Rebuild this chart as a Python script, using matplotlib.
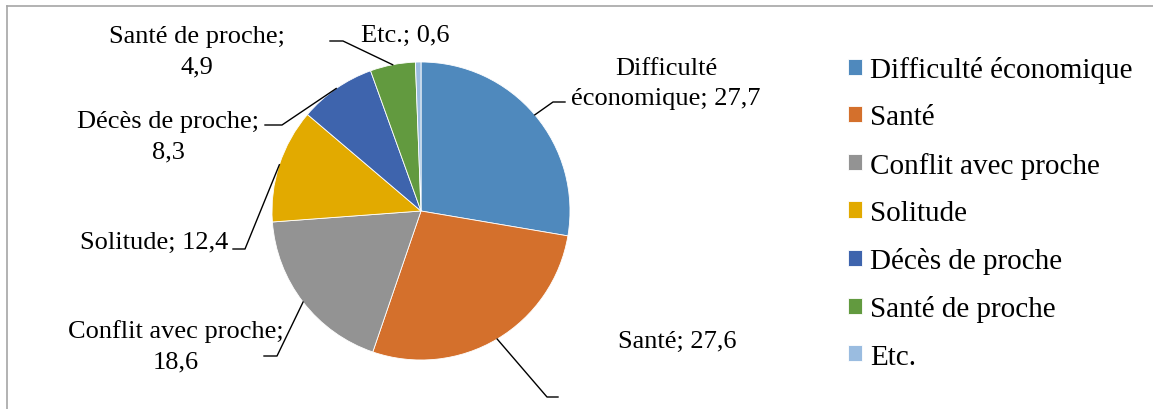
import matplotlib.pyplot as plt
import numpy as np

# données
categories = ["Difficulté économique", "Santé", "Conflit avec proche", "Solitude",
              "Décès de proche", "Santé de proche", "Etc."]
valeurs = [27.7, 27.6, 18.6, 12.4, 8.3, 4.9, 0.6]
etiquettes = ["Difficulté\néconomique; 27,7", "Santé; 27,6", "Conflit avec proche;\n18,6",
              "Solitude; 12,4", "Décès de proche;\n8,3", "Santé de proche;\n4,9", "Etc.; 0,6"]
couleurs = ["#4F89BD", "#D4702C", "#939393", "#E2AA00", "#3E64AD", "#629A3F", "#9ABCE0"]

W, H = 1153, 410

# position des étiquettes (pixels, origine en haut à gauche)
pos_texte = [(666, 84), (677, 342), (176, 347), (154, 243), (168, 137), (197, 52), (405, 36)]
# lignes de rappel : coude puis extrémité (None = pas de ligne)
rappel = [((553, 103), (565, 103)), ((547, 398), (558, 398)), ((277, 357), (264, 357)),
          ((245, 250), (233, 250)), ((282, 126), (265, 126)), ((343, 42), (330, 42)), None]

plt.rcParams['font.family'] = ['Liberation Serif', 'DejaVu Serif']

fig = plt.figure(figsize=(W / 100, H / 100), dpi=100)
ax = fig.add_axes([0, 0, 1, 1])

cx, cy, r = 421, H - 212, 149
wedges, _ = ax.pie(valeurs, colors=couleurs, startangle=90, counterclock=False,
                   center=(cx, cy), radius=r, frame=True,
                   wedgeprops=dict(edgecolor='white', linewidth=0.6))
ax.set_xlim(0, W)
ax.set_ylim(0, H)
ax.set_aspect('equal')
ax.axis('off')

for w, txt, (tx, ty), rp in zip(wedges, etiquettes, pos_texte, rappel):
    ax.text(tx, H - ty, txt, ha='center', va='center', fontsize=19,
            linespacing=1.5, color='black')
    if rp is not None:
        a = np.deg2rad((w.theta1 + w.theta2) / 2)
        x0, y0 = cx + r * np.cos(a), cy + r * np.sin(a)
        (ex, ey), (fx, fy) = rp
        ax.plot([x0, ex, fx], [y0, H - ey, H - fy], color='black', linewidth=1)

ax.legend(wedges, categories, loc='upper left', bbox_to_anchor=(848 / W, 1 - 57 / H),
          bbox_transform=fig.transFigure, frameon=False, fontsize=21,
          handlelength=0.48, handleheight=0.48, handletextpad=0.27,
          labelspacing=0.73, borderpad=0, borderaxespad=0)

# cadre gris (haut et gauche)
fig.add_artist(plt.Line2D([7 / W, 1], [1 - 7 / H, 1 - 7 / H], color='#A6A6A6', linewidth=1.2))
fig.add_artist(plt.Line2D([7 / W, 7 / W], [0, 1 - 7 / H], color='#A6A6A6', linewidth=1.2))

fig.savefig('out.png', dpi=100)
